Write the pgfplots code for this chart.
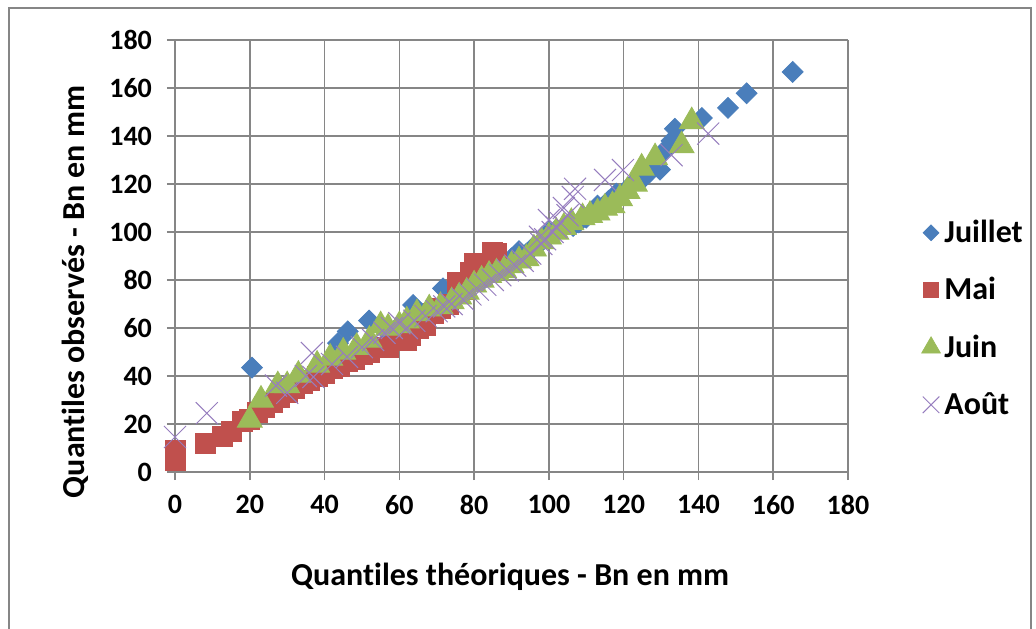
\documentclass[border=0pt]{standalone}
\usepackage{fontspec}
\setmainfont[Ligatures={NoCommon}]{Carlito}
\usepackage{pgfplots}
\pgfplotsset{compat=1.18}

\definecolor{cjuillet}{RGB}{74,126,187}
\definecolor{cmai}{RGB}{192,80,77}
\definecolor{cjuin}{RGB}{155,187,89}
\definecolor{caout}{RGB}{150,125,190}
\definecolor{cgrid}{RGB}{134,134,134}

\begin{document}
\begin{tikzpicture}
\useasboundingbox (0,0) rectangle (518pt,314pt);
% chart frame
\draw[cgrid, line width=1.2pt] (4.5pt,310pt) rectangle (515.5pt,-10pt);

\begin{axis}[
    at={(87.5pt,78pt)}, anchor=south west,
    scale only axis,
    width=336.5pt, height=216pt,
    xmin=0, xmax=180, ymin=0, ymax=180,
    xtick={0,20,...,180}, ytick={0,20,...,180},
    axis lines=left,
    axis line style={-, cgrid, line width=0.8pt},
    grid=major,
    major grid style={cgrid, line width=0.8pt},
    tick align=outside,
    major tick length=4pt,
    tick style={cgrid, line width=0.8pt},
    tick label style={font=\fontsize{14}{16}\selectfont\bfseries},
    /pgf/number format/assume math mode=true,
    xticklabel style={yshift=-4pt},
    yticklabel style={xshift=-4pt},
    xlabel={Quantiles théoriques - Bn en mm},
    ylabel={Quantiles observés - Bn en mm},
    xlabel style={font=\fontsize{16}{18}\selectfont\bfseries, at={(axis description cs:0.498,-0.243)}, anchor=center},
    ylabel style={font=\fontsize{16}{18}\selectfont\bfseries, at={(axis description cs:-0.1486,0.417)}, anchor=center},
    clip=false,
    legend style={draw=none, fill=none, at={(axis description cs:1.1,0.355)}, anchor=west,
        font=\fontsize{16}{18}\selectfont\bfseries, row sep=12pt},
    legend cell align=left,
    legend image post style={scale=0.75},
]

% Juillet
\addplot[only marks, mark=square*, mark size=3.7pt, mark options={rotate=45, draw=cjuillet, fill=cjuillet}] coordinates {
(20.6,43.5) (43.6,53.7) (46.2,58.6) (51.9,63.1) (57,58) (60,61) (63.7,69.6) (66,66)
(71.7,76.5) (74,73) (77,76) (80,79) (83,81) (86,84) (88,86) (90,89) (92,92) (94,91)
(96,94) (98,96) (100,100) (102,101) (104,102) (106.5,102.5) (108,104) (110,106)
(113,111) (116,113) (118,116) (121,118) (123,121) (125,122) (127,125) (129.7,126)
(131,134) (132.8,138) (133.7,143) (140.9,147.5) (147.9,151.7) (152.9,157.8) (165.2,166.7)
};
\addlegendentry{Juillet}

% Mai
\addplot[only marks, mark=square*, mark size=5pt, mark options={draw=cmai, fill=cmai}] coordinates {
(0,5) (0,9) (8,12) (12.8,15) (15,17) (18,21) (20,22) (22,25) (24,27) (26,29) (28,31)
(30,33) (32,35) (34,37) (36,38) (38,40) (40,41) (42,43) (44,44) (46,46) (48,47) (50,49)
(52,50) (55.7,52) (57,52) (59,55) (62,55) (63,57) (65,60) (67,61) (69,66) (71,68) (73,70)
(75.5,79) (77,76) (79,83) (80,87) (82,87) (85,91.5) (86,91)
};
\addlegendentry{Mai}

% Juin
\addplot[only marks, mark=triangle*, mark size=7.2pt, mark options={draw=cjuin, fill=cjuin}] coordinates {
(20,21.7) (23,30) (27.5,36) (30,36) (33,40.4) (38,44.6) (41.5,47.5) (45,50) (48.6,52)
(52,55) (55,61) (57,60) (60,61) (62,63) (64.7,66) (68,68) (71,69) (74,71) (76,73)
(78,75) (80,78) (82,80) (84,82) (86,83) (88,84) (90,86) (92,88) (94,89) (96,93) (98,96)
(100,98) (102,100) (104,102) (106,104) (109,106) (111,107) (113,108) (115,110) (117,111)
(119,114) (121,117) (123,120) (124.8,126.7) (128.4,131) (135.5,136) (138.2,146)
};
\addlegendentry{Juin}

% Aout
\addplot[only marks, mark=x, mark size=7.8pt, mark options={draw=caout, line width=0.5pt}] coordinates {
(0,14.6) (8.5,24.5) (27,36) (30,33) (35,40) (37,39.6) (36.6,49.6) (42,45) (46,48) (50,52)
(53,55) (56,58) (58,60) (60,62) (62,60) (64,63) (67,65) (70,67) (72,69) (74,70) (77,72)
(79,74) (81,76) (83,78) (85,80) (87,82) (89,84) (91,86) (93,88) (95,91) (97.6,98) (98,95)
(99,97) (100,105) (101,100) (102,102) (103,104) (104,110) (105,107) (106.4,114.6) (107,118)
(115,121.7) (119.8,125.8) (132.8,132) (142.6,141)
};
\addlegendentry{Août}

\end{axis}
\end{tikzpicture}
\end{document}
